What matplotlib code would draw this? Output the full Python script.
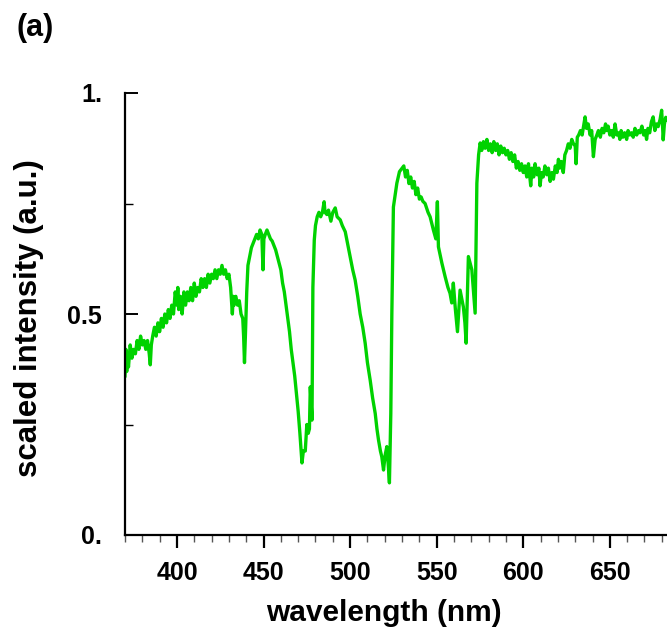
import matplotlib.pyplot as plt
from matplotlib.ticker import MultipleLocator, FixedLocator

plt.rcParams['font.family'] = ['Liberation Sans', 'DejaVu Sans']
plt.rcParams['font.weight'] = 'bold'

# spectrum (nm, scaled intensity)
wavelength = [
    370, 370.5, 371, 371.5, 372, 373, 374, 375, 376, 377, 378, 379, 380, 381, 382, 383, 384, 384.6, 385.2,
    386, 387, 388, 389, 390, 391, 392, 393, 394, 395, 396, 397, 398, 399, 400, 400.5, 401, 402, 403, 404,
    405, 406, 407, 408, 409, 410, 411, 412, 413, 414, 415, 416, 417, 418, 419, 420, 421, 422, 423, 424,
    425, 426, 427, 428, 429, 430, 431, 431.5, 432, 432.5, 433, 434, 435, 436, 437, 438, 438.5, 439, 439.6,
    440.3, 441, 442, 443, 444, 445, 446, 447, 448, 449, 449.7, 450.2, 451, 452, 453, 454, 455, 456, 457,
    458, 459, 460, 461, 462, 463, 464, 465, 466, 467, 468, 469, 470, 471, 471.8, 472.2, 473, 474.1, 475,
    475.8, 476.5, 477, 478, 478.5, 479.3, 480, 481, 482, 483, 484, 485, 485.5, 486.6, 487.5, 488.9, 490,
    491.4, 492.5, 494.3, 495.5, 497.2, 498.5, 500, 501.5, 502.9, 504.4, 505.8, 507.3, 508.7, 510, 511.6,
    513, 514.5, 515.5, 516.4, 517.5, 518.3, 519.3, 520.2, 521.2, 522, 522.7, 523.5, 524.1, 525, 527,
    528.5, 530, 531, 532, 533, 534, 535, 536, 537, 538, 539, 540, 541, 542, 543.3, 545, 546.2, 548.1,
    549.5, 550.4, 551, 553, 554.9, 556.5, 557.7, 558.7, 559.6, 560.8, 562, 563.5, 565.4, 566.3, 567,
    568.3, 570.3, 572.2, 573.2, 574.2, 575.1, 576, 577, 578, 579, 580, 581, 582, 583, 584, 585, 586, 587,
    588, 589, 590, 591, 592, 593, 594, 595, 596, 597, 598, 599, 600, 601, 602, 603, 604.3, 605, 606,
    606.8, 608, 609, 609.7, 610.5, 611.5, 612.5, 613.6, 614.5, 615.5, 616.5, 617.4, 618.5, 619.5, 620.3,
    621, 622, 623.1, 624, 625, 626, 627, 628, 629, 630, 630.5, 631.2, 632, 633, 634, 635, 635.7, 636.5,
    637.5, 638.6, 639.5, 640.5, 641.5, 642.5, 643.4, 644.5, 645.5, 646.5, 647.5, 648.2, 649, 650, 651,
    652, 653, 654, 655, 655.8, 656.5, 657.5, 658.5, 659.7, 660.5, 661.5, 662.5, 663.5, 664.5, 665.5,
    666.5, 667.4, 668.5, 669.5, 670.5, 671.2, 672, 673, 674, 675, 676, 677, 677.9, 679, 679.9, 680.5,
    680.8, 681.5, 682.3, 682.8,
]
intensity = [
    0.36, 0.42, 0.37, 0.41, 0.38, 0.43, 0.40, 0.42, 0.41, 0.44, 0.42, 0.45, 0.43, 0.44, 0.42, 0.44, 0.41, 0.385, 0.43,
    0.45, 0.47, 0.45, 0.48, 0.46, 0.49, 0.47, 0.50, 0.48, 0.51, 0.49, 0.52, 0.50, 0.55, 0.52, 0.56, 0.51, 0.54, 0.50, 0.55,
    0.52, 0.55, 0.53, 0.56, 0.53, 0.57, 0.54, 0.56, 0.55, 0.58, 0.56, 0.58, 0.56, 0.59, 0.57, 0.59, 0.58, 0.60, 0.58, 0.60,
    0.59, 0.61, 0.59, 0.60, 0.58, 0.59, 0.56, 0.53, 0.50, 0.54, 0.52, 0.54, 0.52, 0.53, 0.50, 0.49, 0.45, 0.39, 0.46,
    0.55, 0.61, 0.63, 0.65, 0.66, 0.67, 0.68, 0.67, 0.69, 0.68, 0.60, 0.67, 0.68, 0.69, 0.68, 0.67, 0.665, 0.655, 0.645,
    0.63, 0.615, 0.60, 0.57, 0.55, 0.52, 0.49, 0.46, 0.42, 0.39, 0.36, 0.32, 0.28, 0.23, 0.185, 0.163, 0.19, 0.19, 0.25,
    0.23, 0.24, 0.335, 0.26, 0.56, 0.667, 0.70, 0.72, 0.73, 0.72, 0.73, 0.754, 0.73, 0.725, 0.735, 0.71, 0.73,
    0.74, 0.72, 0.713, 0.70, 0.686, 0.66, 0.63, 0.60, 0.577, 0.54, 0.50, 0.47, 0.434, 0.39, 0.35,
    0.31, 0.275, 0.24, 0.215, 0.19, 0.177, 0.147, 0.18, 0.20, 0.16, 0.118, 0.275, 0.50, 0.742, 0.796,
    0.822, 0.83, 0.835, 0.81, 0.825, 0.795, 0.81, 0.785, 0.80, 0.77, 0.785, 0.76, 0.765, 0.755, 0.75, 0.73, 0.72, 0.69,
    0.67, 0.754, 0.652, 0.615, 0.584, 0.56, 0.547, 0.525, 0.57, 0.51, 0.46, 0.554, 0.516, 0.48, 0.434,
    0.63, 0.60, 0.502, 0.796, 0.86, 0.887, 0.87, 0.89, 0.875, 0.895, 0.87, 0.885, 0.865, 0.89, 0.87, 0.885, 0.86, 0.88,
    0.865, 0.875, 0.86, 0.87, 0.85, 0.865, 0.845, 0.86, 0.83, 0.845, 0.825, 0.84, 0.82, 0.835, 0.81, 0.84, 0.79, 0.83, 0.81,
    0.84, 0.815, 0.83, 0.79, 0.82, 0.81, 0.835, 0.815, 0.83, 0.80, 0.82, 0.805, 0.835, 0.82, 0.85,
    0.83, 0.845, 0.82, 0.86, 0.87, 0.885, 0.875, 0.895, 0.885, 0.88, 0.84, 0.90, 0.905, 0.915, 0.905, 0.93, 0.946, 0.92,
    0.93, 0.905, 0.915, 0.856, 0.895, 0.905, 0.915, 0.90, 0.92, 0.91, 0.93, 0.915, 0.925, 0.905, 0.915,
    0.90, 0.93, 0.905, 0.91, 0.895, 0.915, 0.90, 0.91, 0.895, 0.915, 0.905, 0.91, 0.90, 0.92, 0.905,
    0.915, 0.91, 0.925, 0.905, 0.915, 0.895, 0.92, 0.91, 0.935, 0.946, 0.915, 0.93, 0.924, 0.94, 0.961, 0.92,
    0.894, 0.93, 0.945, 0.939,
]

xticks = [400, 450, 500, 550, 600, 650]
yticks = [0.0, 0.5, 1.0]
ytick_labels = ['0.', '0.5', '1.']

fig = plt.figure(figsize=(6.67, 6.31), dpi=100)
ax = fig.add_axes([125 / 667, 96 / 631, 542 / 667, 442 / 631])

ax.plot(wavelength, intensity, color='#00d200', lw=2.4)

ax.set_xlim(370, 683)
ax.set_ylim(0, 1)
ax.spines['top'].set_visible(False)
ax.spines['right'].set_visible(False)
for s in ('left', 'bottom'):
    ax.spines[s].set_linewidth(1.6)

ax.xaxis.set_major_locator(FixedLocator(xticks))
ax.xaxis.set_minor_locator(MultipleLocator(10))
ax.yaxis.set_major_locator(FixedLocator(yticks))
ax.yaxis.set_minor_locator(FixedLocator([0.25, 0.75]))
ax.set_yticklabels(ytick_labels)

ax.tick_params(axis='x', which='major', direction='out', length=9, width=1.6, labelsize=18, pad=10)
ax.tick_params(axis='x', which='minor', direction='out', length=5, width=1.0, color='#555555')
ax.tick_params(axis='y', which='major', direction='in', length=9, width=1.4, labelsize=18, pad=16.5)
ax.tick_params(axis='y', which='minor', direction='in', length=6, width=1.0)
for lab in ax.get_xticklabels() + ax.get_yticklabels():
    lab.set_fontweight('bold')

fig.text(384 / 667, 1 - 613 / 631, 'wavelength (nm)', ha='center', va='center',
         fontsize=21.5, fontweight='bold')
fig.text(29 / 667, 1 - 318 / 631, 'scaled intensity (a.u.)', ha='center', va='center',
         rotation=90, fontsize=22.5, fontweight='bold')
fig.text(35 / 667, 1 - 28 / 631, '(a)', ha='center', va='center', fontsize=22, fontweight='bold')

fig.savefig('out.png', dpi=100)
